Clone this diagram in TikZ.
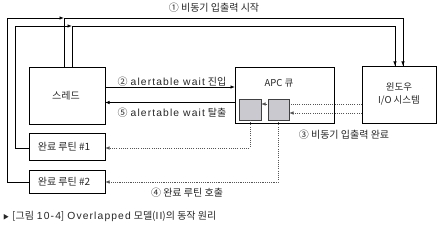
\documentclass[tikz,border=0pt]{standalone}
\usepackage{fontspec}
\setmainfont{Noto Sans CJK KR}
\newfontfamily\lat{Liberation Sans}[LetterSpace=11]
\newcommand\latw[1]{{\fontsize{10.3}{12}\lat #1}}
\usetikzlibrary{arrows.meta}
\definecolor{sqfill}{HTML}{C9C9CF}
\definecolor{dotc}{HTML}{555555}
\tikzset{
  box/.style={draw=black, line width=0.9pt},
  sqbox/.style={draw=black!75, fill=sqfill, line width=0.9pt},
  wire/.style={draw=black, line width=0.8pt},
  dwire/.style={draw=dotc, line width=0.8pt, dash pattern=on 1.1pt off 1.1pt},
  tip/.style={-{Latex[length=4.5pt,width=3.5pt]}},
  lbl/.style={font=\fontsize{10}{11}\selectfont, text=black!85, inner sep=0pt},
  txt/.style={font=\fontsize{10}{12}\selectfont, text=black!85, inner sep=0pt, align=center},
}
\begin{document}
\begin{tikzpicture}[x=1pt, y=-1pt]
\useasboundingbox (0,0) rectangle (437,227);
% boxes
\draw[box] (29,67) rectangle (105,124);
\node[txt] (thread) at (66,96) {스레드};
\draw[box] (29,133) rectangle (105,160);
\node[txt] (c1) at (64,146.5) {완료 루틴 \#1};
\draw[box] (29,170) rectangle (105,193);
\node[txt] (c2) at (64,181.5) {완료 루틴 \#2};
\draw[box] (235,67) rectangle (334,123);
\node[txt, font=\fontsize{9.5}{11}\selectfont] (apc) at (279,83.5) {APC 큐};
\draw[box] (362,66) rectangle (436,123);
\node[txt, font=\fontsize{9.5}{13.5}\selectfont] (io) at (399,94) {윈도우\\I/O 시스템};
% named anchor coordinates
\coordinate (thTopA) at (64,67);
\coordinate (thTopB) at (72,67);
\coordinate (jA) at (64,18);
\coordinate (jB) at (72,26);
\coordinate (ioA) at (403,66);
\coordinate (ioB) at (395,66);
% top wires
\draw[wire] (thTopA) -- (jA) -- (403,18) -- (ioA);
\draw[wire, tip] (403,40) -- (ioA);
\draw[wire] (thTopB) -- (jB) -- (395,26) -- (ioB);
\draw[wire, tip] (395,40) -- (ioB);
\draw[wire, tip] (29,182) -- (7,182) -- (7,18) -- (jA);
\draw[wire, tip] (29,148) -- (15,148) -- (15,26) -- (jB);
\node[lbl] (l1) at (214,8) {① 비동기 입출력 시작};
% thread <-> APC
\draw[wire, tip] (105,87) -- (235,87);
\draw[wire, tip] (235,102.5) -- (105,102.5);
\node[lbl] (l2) at (172,81.5) {②\hspace{3pt}\latw{alertable wait}\hspace{3pt}진입};
\node[lbl] (l5) at (172,112.5) {⑤\hspace{3pt}\latw{alertable wait}\hspace{3pt}탈출};
% dotted from IO to squares
\draw[dwire, tip] (362,104) -- (261,104);
\draw[dwire, tip] (362,113) -- (289,113);
% squares
\draw[sqbox] (239,99) rectangle (261,120);
\draw[sqbox] (268,99) rectangle (289,120);
\coordinate (sq1b) at (250,120);
\coordinate (sq2b) at (278.5,120);
% dotted to completion routines
\draw[dwire, tip] (sq1b) -- (250,148) -- (105,148);
\draw[dwire, tip] (sq2b) -- (278.5,182) -- (105,182);
\node[lbl] (l3) at (344,135) {③ 비동기 입출력 완료};
\node[lbl] (l4) at (187,192.5) {④ 완료 루틴 호출};
% caption
\node[lbl, anchor=west] (cap) at (3,216) {{\fontsize{6}{7}\selectfont▶}\hspace{3pt}[그림\hspace{3pt}\latw{10-4}]\hspace{3pt}\latw{Overlapped}\hspace{3pt}모델(\latw{II})의 동작 원리};
\end{tikzpicture}
\end{document}
